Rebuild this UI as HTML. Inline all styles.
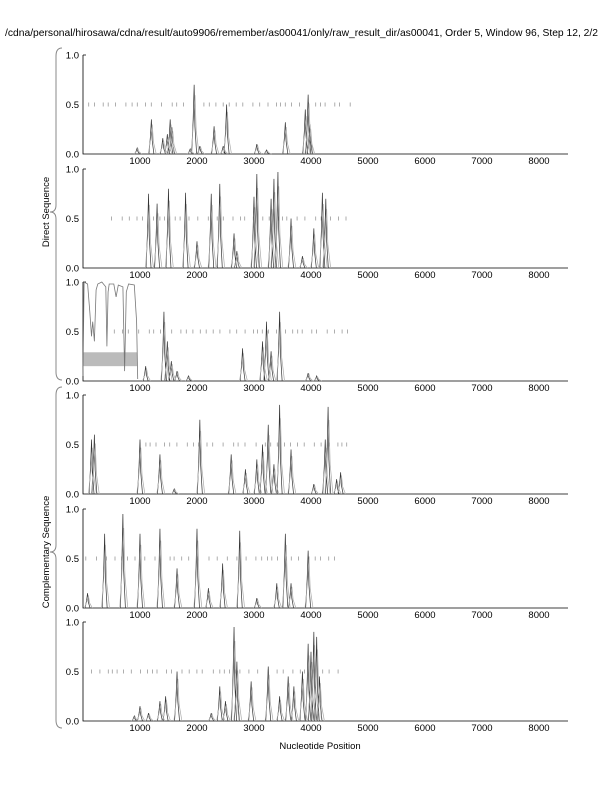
<!DOCTYPE html>
<html><head><meta charset="utf-8"><style>
body{margin:0;background:#fff;width:612px;height:792px;overflow:hidden}
svg{display:block}
text{font-family:"Liberation Sans",sans-serif;font-size:9.5px;fill:#000}
</style></head><body>
<svg id="s" width="612" height="792" xmlns="http://www.w3.org/2000/svg">
<text x="598" y="36" text-anchor="end" style="font-size:10.3px">/cdna/personal/hirosawa/cdna/result/auto9906/remember/as00041/only/raw_result_dir/as00041, Order 5, Window 96, Step 12, 2/2</text>
<text x="320" y="749" text-anchor="middle">Nucleotide Position</text>
<text transform="translate(49,212) rotate(-90)" text-anchor="middle">Direct Sequence</text>
<text transform="translate(49,552) rotate(-90)" text-anchor="middle">Complementary Sequence</text>
<path d="M62,48 Q56,48 56,56 L56,205 Q56,212 50,212 Q56,212 56,219 L56,372 Q56,380 62,380" fill="none" stroke="#888" stroke-width="1"/>
<path d="M62,387 Q56,387 56,395 L56,545 Q56,552 50,552 Q56,552 56,559 L56,720 Q56,728 62,728" fill="none" stroke="#888" stroke-width="1"/>
<g id="g"></g>
</svg>
<script>
var g=document.getElementById('g'),NS='http://www.w3.org/2000/svg';
function el(n,a,t){var e=document.createElementNS(NS,n);for(var k in a)e.setAttribute(k,a[k]);if(t)e.textContent=t;g.appendChild(e);return e;}
var tops=[55,169,282,395,509,622],H=99,X0=83,S=0.057,XR=568;
function X(v){return X0+v*S;}
var peaks=[
[[950,.06],[1200,.35],[1400,.16],[1480,.2],[1530,.35],[1560,.27],[1880,.05],[1950,.7],[2050,.08],[2300,.28],[2460,.08],[2520,.5],[3050,.1],[3220,.04],[3550,.32],[3900,.45],[3950,.6],[3980,.3]],
[[1150,.75],[1300,.65],[1500,.8],[1800,.76],[2000,.27],[2250,.75],[2400,.85],[2650,.35],[2700,.17],[3000,.72],[3050,.95],[3350,.9],[3300,.7],[3420,.97],[3650,.5],[3850,.12],[4050,.4],[4200,.76],[4260,.7]],
[[1100,.15],[1420,.7],[1480,.4],[1550,.2],[1650,.1],[1850,.05],[2800,.33],[3150,.4],[3220,.6],[3300,.3],[3450,.7],[3950,.08],[4100,.05]],
[[150,.55],[200,.6],[1000,.55],[1350,.4],[1600,.05],[2050,.75],[2600,.4],[2850,.25],[3050,.35],[3150,.5],[3250,.7],[3350,.3],[3450,.9],[3650,.45],[4050,.1],[4300,.88],[4250,.55],[4450,.15],[4520,.22]],
[[80,.15],[380,.75],[700,.95],[1000,.75],[1350,.8],[1650,.4],[2000,.8],[2200,.2],[2450,.45],[2750,.78],[3050,.1],[3400,.25],[3550,.75],[3650,.25],[3950,.58]],
[[900,.05],[1000,.15],[1150,.08],[1350,.2],[1450,.25],[1650,.5],[2250,.08],[2400,.35],[2500,.2],[2650,.95],[2700,.6],[2950,.4],[3250,.55],[3450,.25],[3600,.45],[3700,.35],[3850,.5],[3950,.78],[4000,.7],[4050,.9],[4100,.85],[4150,.45]]
];
var ticks=[[100,4700],[500,4700],[550,4650],[1000,4650],[50,4500],[150,4500]];
for(var p=0;p<6;p++){
 var t=tops[p],b=t+H;
 el('path',{d:'M'+X0+','+t+'H'+(X0+3)+'M'+X0+','+t+'V'+b+'H'+XR,stroke:'#000','stroke-width':.8,fill:'none'});
 el('text',{x:X0-4,y:t+3.5,'text-anchor':'end'},'1.0');
 el('text',{x:X0-4,y:t+H/2+3.5,'text-anchor':'end'},'0.5');
 el('text',{x:X0-4,y:b+3.5,'text-anchor':'end'},'0.0');
 for(var k=1;k<=8;k++)el('text',{x:X(k*1000),y:b+10,'text-anchor':'middle'},''+k*1000);
 var tk='';var seed=p*7+3;
 for(var v=ticks[p][0];v<ticks[p][1];v+=70+((seed=(seed*37+11)%97))*1.3){tk+='M'+X(v).toFixed(1)+','+(t+H/2-2)+'v4';}
 el('path',{d:tk,stroke:'#999','stroke-width':.8});
 if(p==2){
  el('rect',{x:X0,y:t+H*0.71,width:X(950)-X0,height:H*0.14,fill:'#bbb'});
  var d='M'+X(0)+','+(t+H*0.95);
  var pts=[[20,0],[80,.02],[120,.3],[150,.55],[170,.4],[200,.6],[230,.08],[260,.02],[330,0],[400,.05],[420,.65],[440,.1],[460,.02],[540,.02],[580,.15],[620,.03],[700,.05],[730,.9],[760,.1],[800,.02],[900,.03],[940,.4],[960,.98]];
  for(var i=0;i<pts.length;i++)d+='L'+X(pts[i][0]).toFixed(1)+','+(t+H*pts[i][1]).toFixed(1);
  el('path',{d:d,stroke:'#777','stroke-width':.8,fill:'none'});
 }
 var pk=peaks[p];
 for(var c=0;c<2;c++){
  var d='';
  for(var i=0;i<pk.length;i++){
   var x=X(pk[i][0]+c*15),h=pk[i][1]*(c?0.85:1),w=c?4:2.5;
   d+='M'+(x-w)+','+b+'L'+(x-w*0.4)+','+(b-h*H*0.5)+'L'+x+','+(b-h*H)+'L'+(x+w*0.3)+','+(b-h*H*0.4)+'L'+(x+w)+','+b;
  }
  el('path',{d:d,stroke:c?'#aaa':'#333','stroke-width':.7,fill:'none'});
 }
}
</script>
</body></html>
